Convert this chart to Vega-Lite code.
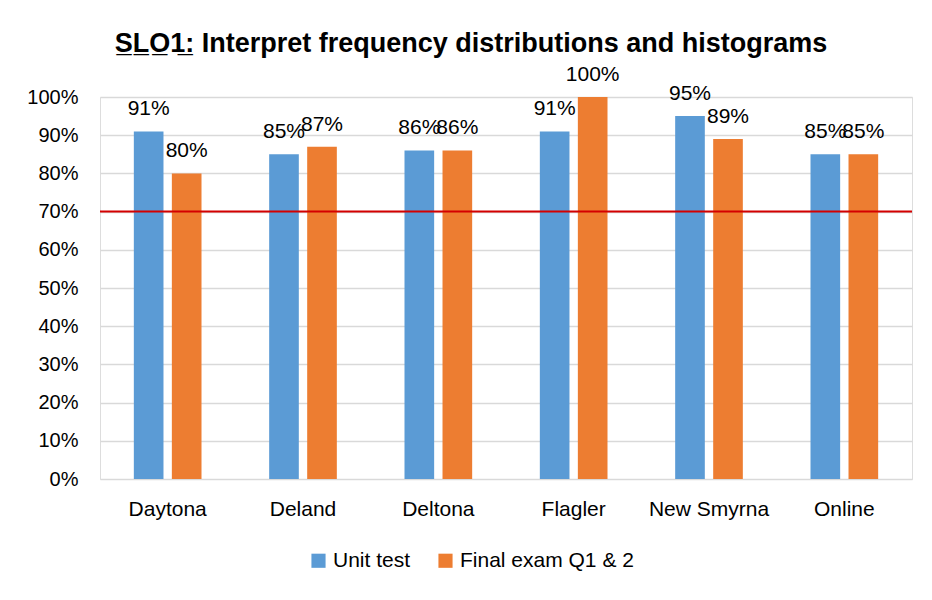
{
  "$schema": "https://vega.github.io/schema/vega-lite/v6.json",
  "width": 812,
  "height": 382,
  "autosize": "none",
  "padding": {"left": 100, "top": 97, "right": 20, "bottom": 121},
  "background": "white",
  "title": {
    "text": "S̲L̲O̲1̲: Interpret frequency distributions and histograms",
    "font": "Liberation Sans",
    "fontSize": 27,
    "fontWeight": "bold",
    "color": "black",
    "anchor": "middle",
    "dx": -35,
    "offset": 6
  },
  "data": {
    "values": [
      {"site": "Daytona", "series": "Unit test", "value": 0.91},
      {"site": "Daytona", "series": "Final exam Q1 & 2", "value": 0.80},
      {"site": "Deland", "series": "Unit test", "value": 0.85},
      {"site": "Deland", "series": "Final exam Q1 & 2", "value": 0.87},
      {"site": "Deltona", "series": "Unit test", "value": 0.86},
      {"site": "Deltona", "series": "Final exam Q1 & 2", "value": 0.86},
      {"site": "Flagler", "series": "Unit test", "value": 0.91},
      {"site": "Flagler", "series": "Final exam Q1 & 2", "value": 1.00},
      {"site": "New Smyrna", "series": "Unit test", "value": 0.95},
      {"site": "New Smyrna", "series": "Final exam Q1 & 2", "value": 0.89},
      {"site": "Online", "series": "Unit test", "value": 0.85},
      {"site": "Online", "series": "Final exam Q1 & 2", "value": 0.85}
    ]
  },
  "encoding": {
    "x": {
      "field": "site",
      "type": "nominal",
      "sort": null,
      "scale": {"paddingInner": 0.5, "paddingOuter": 0.25},
      "axis": {
        "title": null,
        "labelAngle": 0,
        "labelFont": "Liberation Sans",
        "labelFontSize": 21,
        "labelColor": "black",
        "labelPadding": 19,
        "ticks": false,
        "domain": false
      }
    },
    "xOffset": {
      "field": "series",
      "type": "nominal",
      "sort": ["Unit test", "Final exam Q1 & 2"],
      "scale": {"paddingInner": 0.22}
    },
    "y": {
      "field": "value",
      "type": "quantitative",
      "scale": {"domain": [0, 1]},
      "axis": {
        "title": null,
        "values": [0, 0.1, 0.2, 0.3, 0.4, 0.5, 0.6, 0.7, 0.8, 0.9, 1],
        "format": ".0%",
        "labelFont": "Liberation Sans",
        "labelFontSize": 20,
        "labelColor": "black",
        "labelPadding": 22,
        "ticks": false,
        "domain": false,
        "grid": true,
        "gridColor": "#D9D9D9",
        "gridWidth": 1.5
      }
    }
  },
  "layer": [
    {
      "mark": {"type": "bar"},
      "encoding": {
        "color": {
          "field": "series",
          "type": "nominal",
          "scale": {"domain": ["Unit test", "Final exam Q1 & 2"], "range": ["#5B9BD5", "#ED7D31"]},
          "legend": {
            "title": null,
            "orient": "none",
            "direction": "horizontal",
            "legendX": 208,
            "legendY": 453,
            "symbolType": "square",
            "symbolSize": 200,
            "symbolStrokeWidth": 0,
            "labelFont": "Liberation Sans",
            "labelFontSize": 21,
            "labelColor": "black",
            "labelLimit": 400,
            "labelOffset": 4,
            "columnPadding": 24
          }
        }
      }
    },
    {
      "mark": {
        "type": "text",
        "baseline": "bottom",
        "dy": -12,
        "font": "Liberation Sans",
        "fontSize": 21,
        "color": "black"
      },
      "encoding": {
        "text": {"field": "value", "type": "quantitative", "format": ".0%"}
      }
    },
    {
      "data": {"values": [{"target": 0.7}]},
      "mark": {"type": "rule", "color": "#D40000", "strokeWidth": 2},
      "encoding": {
        "y": {"field": "target", "type": "quantitative"},
        "x": null,
        "xOffset": null
      }
    }
  ]
}
